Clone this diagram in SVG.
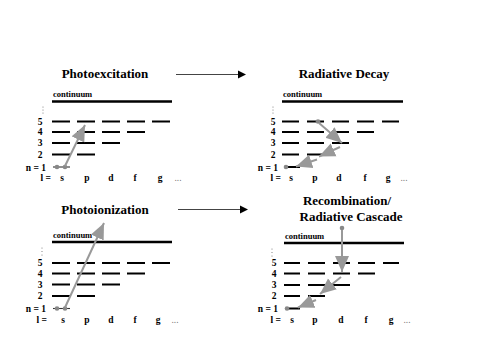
<svg xmlns="http://www.w3.org/2000/svg" width="485" height="342" viewBox="0 0 485 342">
<defs>
<style>
.ttl{font-family:"Liberation Serif","Times New Roman",serif;font-weight:bold;font-size:13px;fill:#000;text-anchor:middle}
.lab{font-family:"Liberation Serif","Times New Roman",serif;font-weight:bold;font-size:9.5px;fill:#000}
.cont{font-family:"Liberation Serif","Times New Roman",serif;font-weight:bold;font-size:8.5px;fill:#000}
.lv{stroke:#000;stroke-width:1.9;fill:none}
.cl{stroke:#000;stroke-width:2.4;fill:none}
.thin{stroke:#333;stroke-width:1.1;fill:none}
.ga{stroke:#999;stroke-width:2;fill:none;marker-end:url(#gh)}
.dot{fill:#888}
.vd{fill:#777}
.conn{stroke:#444;stroke-width:1.1;fill:none}
</style>
<marker id="gh" markerUnits="userSpaceOnUse" markerWidth="17" markerHeight="15" refX="16" refY="7" orient="auto" viewBox="0 0 17 14">
<path d="M0,0 L16,7 L0,14 Z" fill="#999"/>
</marker>
</defs>
<rect width="485" height="342" fill="#fff"/>

<g id="connectors">
<line class="conn" x1="176" y1="74.5" x2="239" y2="74.5"/>
<polygon points="238,70.5 246,74.5 238,78.5" fill="#000"/>
<line class="conn" x1="178" y1="209.5" x2="241" y2="209.5"/>
<polygon points="240,205.5 248,209.5 240,213.5" fill="#000"/>
</g>

<g id="photoexcitation">
<text class="ttl" x="105" y="78">Photoexcitation</text>
<text class="cont" x="53" y="97">continuum</text>
<path class="cl" d="M52 101.5H172"/>
<circle class="vd" cx="43" cy="107" r="0.6"/><circle class="vd" cx="43" cy="110" r="0.6"/><circle class="vd" cx="43" cy="113" r="0.6"/>
<path class="lv" d="M52 121.5H70M77 121.5H95M102 121.5H120M127 121.5H145M152 121.5H170M52 132H70M77 132H95M102 132H120M127 132H145M52 143H70M77 143H95M102 143H120M52 154.5H70M77 154.5H95"/>
<path class="thin" d="M53 167H70"/>
<circle class="dot" cx="57" cy="167" r="2.3"/><circle class="dot" cx="65" cy="167" r="2.3"/>
<text class="lab" x="40" y="124.5" text-anchor="middle">5</text>
<text class="lab" x="40" y="135" text-anchor="middle">4</text>
<text class="lab" x="40" y="146" text-anchor="middle">3</text>
<text class="lab" x="40" y="157.5" text-anchor="middle">2</text>
<text class="lab" x="46" y="170.5" text-anchor="end">n = 1</text>
<text class="lab" x="51" y="181" text-anchor="end">l =</text>
<text class="lab" x="62" y="181" text-anchor="middle">s</text>
<text class="lab" x="87" y="181" text-anchor="middle">p</text>
<text class="lab" x="111" y="181" text-anchor="middle">d</text>
<text class="lab" x="135" y="181" text-anchor="middle">f</text>
<text class="lab" x="160" y="181" text-anchor="middle">g</text>
<text class="lab" x="178" y="181" text-anchor="middle" style="font-weight:normal;fill:#777">...</text>
<line class="ga" x1="65" y1="166" x2="85" y2="125"/>
</g>

<g id="radiative-decay">
<text class="ttl" x="344" y="78">Radiative Decay</text>
<text class="cont" x="283" y="97">continuum</text>
<path class="cl" d="M282 101.5H403"/>
<circle class="vd" cx="273" cy="107" r="0.6"/><circle class="vd" cx="273" cy="110" r="0.6"/><circle class="vd" cx="273" cy="113" r="0.6"/>
<path class="lv" d="M282 121.5H299M307 121.5H324M332 121.5H349M357 121.5H374M382 121.5H399M282 132H299M307 132H324M332 132H349M357 132H374M282 143H299M307 143H324M332 143H349M282 154.5H299M307 154.5H324M287 167H300"/>
<circle class="dot" cx="286" cy="167" r="2.3"/>
<circle class="dot" cx="318" cy="121.5" r="2.3"/>
<text class="lab" x="273" y="124.5" text-anchor="middle">5</text>
<text class="lab" x="273" y="135" text-anchor="middle">4</text>
<text class="lab" x="273" y="146" text-anchor="middle">3</text>
<text class="lab" x="273" y="157.5" text-anchor="middle">2</text>
<text class="lab" x="278" y="170.5" text-anchor="end">n = 1</text>
<text class="lab" x="281" y="181" text-anchor="end">l =</text>
<text class="lab" x="291" y="181" text-anchor="middle">s</text>
<text class="lab" x="315" y="181" text-anchor="middle">p</text>
<text class="lab" x="339" y="181" text-anchor="middle">d</text>
<text class="lab" x="365" y="181" text-anchor="middle">f</text>
<text class="lab" x="388" y="181" text-anchor="middle">g</text>
<text class="lab" x="404" y="181" text-anchor="middle" style="font-weight:normal;fill:#777">...</text>
<line class="ga" x1="319" y1="123" x2="342" y2="143"/>
<line class="ga" x1="340" y1="147" x2="319" y2="156.5"/>
<line class="ga" x1="317" y1="159.5" x2="296" y2="166.5"/>
</g>

<g id="photoionization">
<text class="ttl" x="105" y="214">Photoionization</text>
<text class="cont" x="53" y="238">continuum</text>
<path class="cl" d="M52 242H172"/>
<circle class="vd" cx="42" cy="248" r="0.6"/><circle class="vd" cx="42" cy="251.5" r="0.6"/><circle class="vd" cx="42" cy="255" r="0.6"/>
<path class="lv" d="M52 263H70M77 263H95M102 263H120M127 263H145M152 263H170M52 273.5H70M77 273.5H95M102 273.5H120M127 273.5H145M52 284.5H70M77 284.5H95M102 284.5H120M52 296H70M77 296H95"/>
<path class="thin" d="M53 308.5H70"/>
<circle class="dot" cx="57" cy="308.5" r="2.3"/><circle class="dot" cx="65" cy="308.5" r="2.3"/>
<text class="lab" x="40" y="266" text-anchor="middle">5</text>
<text class="lab" x="40" y="276.5" text-anchor="middle">4</text>
<text class="lab" x="40" y="287.5" text-anchor="middle">3</text>
<text class="lab" x="40" y="299" text-anchor="middle">2</text>
<text class="lab" x="46" y="312" text-anchor="end">n = 1</text>
<text class="lab" x="47" y="323" text-anchor="end">l =</text>
<text class="lab" x="63" y="323" text-anchor="middle">s</text>
<text class="lab" x="87" y="323" text-anchor="middle">p</text>
<text class="lab" x="111" y="323" text-anchor="middle">d</text>
<text class="lab" x="135" y="323" text-anchor="middle">f</text>
<text class="lab" x="158" y="323" text-anchor="middle">g</text>
<text class="lab" x="175" y="323" text-anchor="middle" style="font-weight:normal;fill:#777">...</text>
<line class="ga" x1="65" y1="307.5" x2="104" y2="223"/>
</g>

<g id="recombination">
<text class="ttl" x="347" y="205">Recombination/</text>
<text class="ttl" x="351" y="221">Radiative Cascade</text>
<text class="cont" x="285" y="238.5">continuum</text>
<path class="cl" d="M284 243H404"/>
<circle class="vd" cx="272" cy="249" r="0.6"/><circle class="vd" cx="272" cy="252.5" r="0.6"/><circle class="vd" cx="272" cy="256" r="0.6"/>
<path class="lv" d="M284 263H300M308 263H325M333 263H350M358 263H375M383 263H399M284 273.5H300M308 273.5H325M333 273.5H350M358 273.5H375M284 285H300M308 285H325M333 285H350M284 296H300M308 296H325M288 308.5H300"/>
<circle class="dot" cx="287" cy="308.5" r="2.3"/>
<circle class="dot" cx="342" cy="228" r="2.3"/>
<text class="lab" x="274" y="266" text-anchor="middle">5</text>
<text class="lab" x="274" y="276.5" text-anchor="middle">4</text>
<text class="lab" x="274" y="288" text-anchor="middle">3</text>
<text class="lab" x="274" y="299" text-anchor="middle">2</text>
<text class="lab" x="278" y="312" text-anchor="end">n = 1</text>
<text class="lab" x="281" y="323" text-anchor="end">l =</text>
<text class="lab" x="292" y="323" text-anchor="middle">s</text>
<text class="lab" x="315" y="323" text-anchor="middle">p</text>
<text class="lab" x="341" y="323" text-anchor="middle">d</text>
<text class="lab" x="366" y="323" text-anchor="middle">f</text>
<text class="lab" x="391" y="323" text-anchor="middle">g</text>
<text class="lab" x="407" y="323" text-anchor="middle" style="font-weight:normal;fill:#777">...</text>
<line class="ga" x1="342" y1="230" x2="342" y2="272"/>
<line class="ga" x1="341" y1="277" x2="320" y2="294"/>
<line class="ga" x1="316" y1="300" x2="298" y2="307.5"/>
</g>
</svg>
